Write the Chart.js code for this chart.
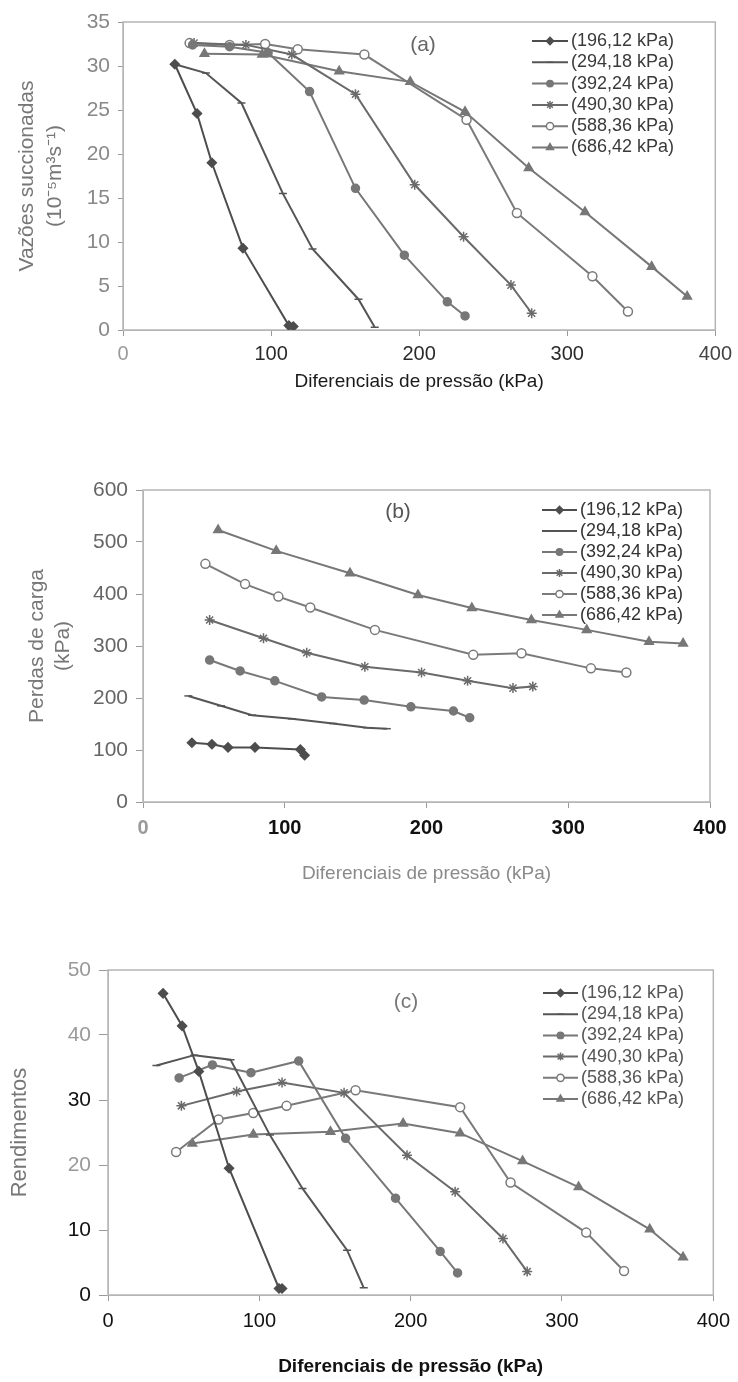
<!DOCTYPE html>
<html>
<head>
<meta charset="utf-8">
<script src="https://cdn.jsdelivr.net/npm/chart.js@4.4.0/dist/chart.umd.min.js"></script>
<style>
  html, body { margin: 0; padding: 0; background: #fff; }
  body { width: 738px; height: 1382px; position: relative; overflow: hidden; }
  .panel { position: absolute; left: 0; width: 738px; }
</style>
</head>
<body>
<div class="panel" style="top:0;height:400px"><canvas id="chart-a"></canvas></div>
<div class="panel" style="top:440px;height:460px"><canvas id="chart-b"></canvas></div>
<div class="panel" style="top:930px;height:452px"><canvas id="chart-c"></canvas></div>
<script>
// series labels and axis ticks
const seriesLabels = ['(196,12 kPa)', '(294,18 kPa)', '(392,24 kPa)', '(490,30 kPa)', '(588,36 kPa)', '(686,42 kPa)'];
const xTicks = [0, 100, 200, 300, 400];
const yTicksA = [0, 5, 10, 15, 20, 25, 30, 35];
const yTicksB = [0, 100, 200, 300, 400, 500, 600];
const yTicksC = [0, 10, 20, 30, 40, 50];

// (a) Vazoes succionadas  [diferencial kPa, vazao]
const a196 = [[35, 30.2], [50, 24.6], [60, 19.0], [81, 9.3], [112, 0.5], [115, 0.4]];
const a294 = [[35, 30.2], [56, 29.2], [80, 25.8], [108, 15.5], [128, 9.2], [159, 3.5], [170, 0.3]];
const a392 = [[47, 32.4], [72, 32.2], [98, 31.5], [126, 27.1], [157, 16.1], [190, 8.5], [219, 3.2], [231, 1.6]];
const a490 = [[48, 32.6], [83, 32.4], [114, 31.3], [157, 26.8], [197, 16.5], [230, 10.6], [262, 5.1], [276, 1.9]];
const a588 = [[45, 32.6], [72, 32.4], [96, 32.5], [118, 31.9], [163, 31.3], [232, 23.9], [266, 13.3], [317, 6.1], [341, 2.1]];
const a686 = [[55, 31.4], [94, 31.3], [146, 29.4], [194, 28.2], [231, 24.8], [274, 18.4], [312, 13.4], [357, 7.2], [381, 3.8]];

// (b) Perdas de carga
const b196 = [[34.5, 114], [48.6, 111], [60, 105], [79, 105], [111, 101], [114, 90]];
const b294 = [[32, 204], [55, 185], [77, 167], [105, 160], [134, 151], [158, 143], [172, 141]];
const b392 = [[47, 273], [68.5, 252], [93, 233], [126, 202], [156, 196], [189, 183], [219, 175], [230.5, 162]];
const b490 = [[47, 350], [85, 315], [115.5, 287], [156.5, 260], [196.5, 249], [229, 233], [261, 219], [275, 222]];
const b588 = [[44, 458], [72, 419], [95.5, 395], [118, 374], [163.6, 331], [233, 283], [267, 286], [316, 257], [341, 249]];
const b686 = [[53, 523], [94, 483], [146, 440], [194, 398], [232, 373], [274, 350], [313, 331], [357, 308], [381, 305]];

// (c) Rendimentos
const c196 = [[36.4, 46.4], [49, 41.4], [60, 34.4], [80, 19.5], [113, 1.0], [115, 1.0]];
const c294 = [[32, 35.3], [57, 36.9], [81, 36.2], [107, 24.6], [128.5, 16.4], [158, 6.9], [169, 1.1]];
const c392 = [[47, 33.4], [69, 35.4], [94.5, 34.2], [126, 36.0], [157, 24.1], [190, 14.9], [219.5, 6.7], [231, 3.4]];
const c490 = [[48.5, 29.1], [85, 31.3], [115, 32.7], [156, 31.1], [197.6, 21.5], [229.4, 15.9], [261, 8.7], [277, 3.6]];
const c588 = [[45, 22.0], [73, 27.0], [96, 28.0], [118, 29.1], [163.6, 31.5], [232.7, 28.9], [266, 17.3], [316, 9.6], [341, 3.7]];
const c686 = [[55.7, 23.3], [96, 24.7], [147, 25.1], [195, 26.4], [232.7, 24.9], [274, 20.6], [311, 16.6], [358, 10.1], [380, 5.8]];

const FONT = '"Liberation Sans", Arial, sans-serif';

const seriesStyle = [
  { pointStyle: 'rectRot', radius: 4.5, line: '#4d4d4d', fill: '#4d4d4d' },
  { pointStyle: 'line', radius: 4, line: '#555555', fill: '#555555' },
  { pointStyle: 'circle', radius: 4, line: '#777777', fill: '#777777' },
  { pointStyle: 'star', radius: 5, line: '#6a6a6a', fill: '#6a6a6a' },
  { pointStyle: 'circle', radius: 4.5, line: '#7a7a7a', fill: '#ffffff' },
  { pointStyle: 'triangle', radius: 5, line: '#777777', fill: '#777777' }
];

function makeDatasets(lists) {
  return lists.map((pts, i) => {
    const s = seriesStyle[i];
    return {
      label: seriesLabels[i],
      data: pts.map(([x, y]) => ({ x: x, y: y })),
      borderColor: s.line,
      borderWidth: 2,
      pointStyle: s.pointStyle,
      pointRadius: s.radius,
      pointBackgroundColor: s.fill,
      pointBorderColor: s.line,
      pointBorderWidth: 1.5,
      tension: 0
    };
  });
}

// plot frame
const framePlugin = {
  id: 'frame',
  beforeDatasetsDraw(chart) {
    const a = chart.chartArea;
    const ctx = chart.ctx;
    ctx.save();
    ctx.strokeStyle = '#b5b5b5';
    ctx.lineWidth = 1.5;
    ctx.strokeRect(a.left, a.top, a.right - a.left, a.bottom - a.top);
    ctx.restore();
  }
};

// legend drawn inside the plot, plus the panel tag
const insideLegend = {
  id: 'insideLegend',
  afterDatasetsDraw(chart, args, opts) {
    const ctx = chart.ctx;
    ctx.save();
    ctx.textBaseline = 'middle';
    ctx.textAlign = 'left';
    chart.data.datasets.forEach((ds, i) => {
      const y = opts.y + i * opts.step;
      ctx.strokeStyle = ds.borderColor;
      ctx.lineWidth = 2;
      ctx.beginPath();
      ctx.moveTo(opts.x, y);
      ctx.lineTo(opts.x + opts.len, y);
      ctx.stroke();
      ctx.fillStyle = ds.pointBackgroundColor;
      ctx.strokeStyle = ds.pointBorderColor;
      ctx.lineWidth = 1.5;
      if (Chart.helpers && Chart.helpers.drawPoint) {
        Chart.helpers.drawPoint(ctx, { pointStyle: ds.pointStyle, radius: ds.pointRadius * 0.8, rotation: 0, borderWidth: 1.5 }, opts.x + opts.len / 2, y);
      }
      ctx.fillStyle = opts.color;
      ctx.font = opts.fontSize + 'px ' + FONT;
      ctx.fillText(ds.label, opts.x + opts.len + 3, y);
    });
    ctx.textAlign = 'center';
    ctx.fillStyle = opts.tagColor;
    ctx.font = '21px ' + FONT;
    ctx.fillText(opts.tag, opts.tagX, opts.tagY);
    ctx.restore();
  }
};

function buildChart(id, lists, cfg) {
  const ctx = document.getElementById(id).getContext('2d');
  return new Chart(ctx, {
    type: 'line',
    data: { datasets: makeDatasets(lists) },
    plugins: [framePlugin, insideLegend],
    options: {
      responsive: true,
      maintainAspectRatio: false,
      animation: false,
      layout: { padding: { top: cfg.padTop, right: cfg.padRight, left: 0, bottom: 0 } },
      plugins: {
        legend: { display: false },
        tooltip: { enabled: false },
        insideLegend: cfg.legend
      },
      scales: {
        x: {
          type: 'linear',
          min: 0,
          max: 400,
          afterBuildTicks: s => { s.ticks = xTicks.map(v => ({ value: v })); },
          afterFit: s => { s.height = cfg.xHeight; },
          grid: { display: true, drawOnChartArea: false, drawTicks: true, tickLength: 6, color: '#9a9a9a' },
          border: { color: '#b5b5b5' },
          ticks: {
            padding: cfg.xTickPad,
            color: c => cfg.xTickColors[c.index],
            font: { family: FONT, size: 20, weight: cfg.xTickWeight }
          },
          title: {
            display: true,
            text: 'Diferenciais de pressão (kPa)',
            color: cfg.xTitleColor,
            font: { family: FONT, size: cfg.xTitleSize, weight: cfg.xTitleWeight },
            padding: { top: 0, bottom: cfg.xTitlePad }
          }
        },
        y: {
          type: 'linear',
          min: cfg.yTicks[0],
          max: cfg.yTicks[cfg.yTicks.length - 1],
          afterBuildTicks: s => { s.ticks = cfg.yTicks.map(v => ({ value: v })); },
          afterFit: s => { s.width = cfg.yWidth; },
          grid: { display: true, drawOnChartArea: false, drawTicks: true, tickLength: cfg.yTickLen, color: '#9a9a9a' },
          border: { color: '#b5b5b5' },
          ticks: {
            padding: cfg.yTickPad,
            color: c => cfg.yTickColors[c.index],
            font: { family: FONT, size: 21 }
          },
          title: {
            display: true,
            text: cfg.yTitle,
            color: '#777777',
            font: { family: FONT, size: cfg.yTitleSize, lineHeight: cfg.yTitleLH },
            padding: { top: cfg.yTitlePad, bottom: 0 }
          }
        }
      }
    }
  });
}

buildChart('chart-a', [a196, a294, a392, a490, a588, a686], {
  padTop: 22, padRight: 21, xHeight: 70, yWidth: 123,
  yTicks: yTicksA, yTickLen: 5, yTickPad: 8, xTickPad: 6,
  xTickColors: ['#9a9a9a', '#2a2a2a', '#2a2a2a', '#2a2a2a', '#444444'],
  yTickColors: ['#888', '#888', '#888', '#888', '#888', '#888', '#888', '#888'],
  xTickWeight: 'normal', xTitleColor: '#1a1a1a', xTitleSize: 19, xTitleWeight: 'normal', xTitlePad: 7,
  yTitle: ['Vazões succionadas', '(10⁻⁵m³s⁻¹)'], yTitleSize: 21, yTitleLH: 1.33, yTitlePad: 13,
  legend: { x: 532, y: 41, step: 21.3, len: 36, fontSize: 18, color: '#3a3a3a', tag: '(a)', tagX: 423, tagY: 45, tagColor: '#666' }
});

buildChart('chart-b', [b196, b294, b392, b490, b588, b686], {
  padTop: 50, padRight: 28, xHeight: 98, yWidth: 143,
  yTicks: yTicksB, yTickLen: 7, yTickPad: 8, xTickPad: 8,
  xTickColors: ['#9a9a9a', '#111', '#111', '#111', '#111'],
  yTickColors: ['#666', '#666', '#666', '#666', '#666', '#666', '#666'],
  xTickWeight: 'bold', xTitleColor: '#8a8a8a', xTitleSize: 19, xTitleWeight: 'normal', xTitlePad: 15,
  yTitle: ['Perdas de carga', '(kPa)'], yTitleSize: 21, yTitleLH: 1.2, yTitlePad: 25,
  legend: { x: 542, y: 70, step: 21, len: 35, fontSize: 18, color: '#333', tag: '(b)', tagX: 398, tagY: 72, tagColor: '#555' }
});

buildChart('chart-c', [c196, c294, c392, c490, c588, c686], {
  padTop: 40, padRight: 23, xHeight: 87, yWidth: 108,
  yTicks: yTicksC, yTickLen: 9, yTickPad: 8, xTickPad: 8,
  xTickColors: ['#111', '#111', '#111', '#111', '#111'],
  yTickColors: ['#111', '#111', '#999', '#111', '#999', '#999'],
  xTickWeight: 'normal', xTitleColor: '#111', xTitleSize: 19, xTitleWeight: 'bold', xTitlePad: 4,
  yTitle: 'Rendimentos', yTitleSize: 22, yTitleLH: 1.2, yTitlePad: 7,
  legend: { x: 543, y: 63, step: 21.2, len: 35, fontSize: 18, color: '#555', tag: '(c)', tagX: 406, tagY: 72, tagColor: '#777' }
});
</script>
</body>
</html>
